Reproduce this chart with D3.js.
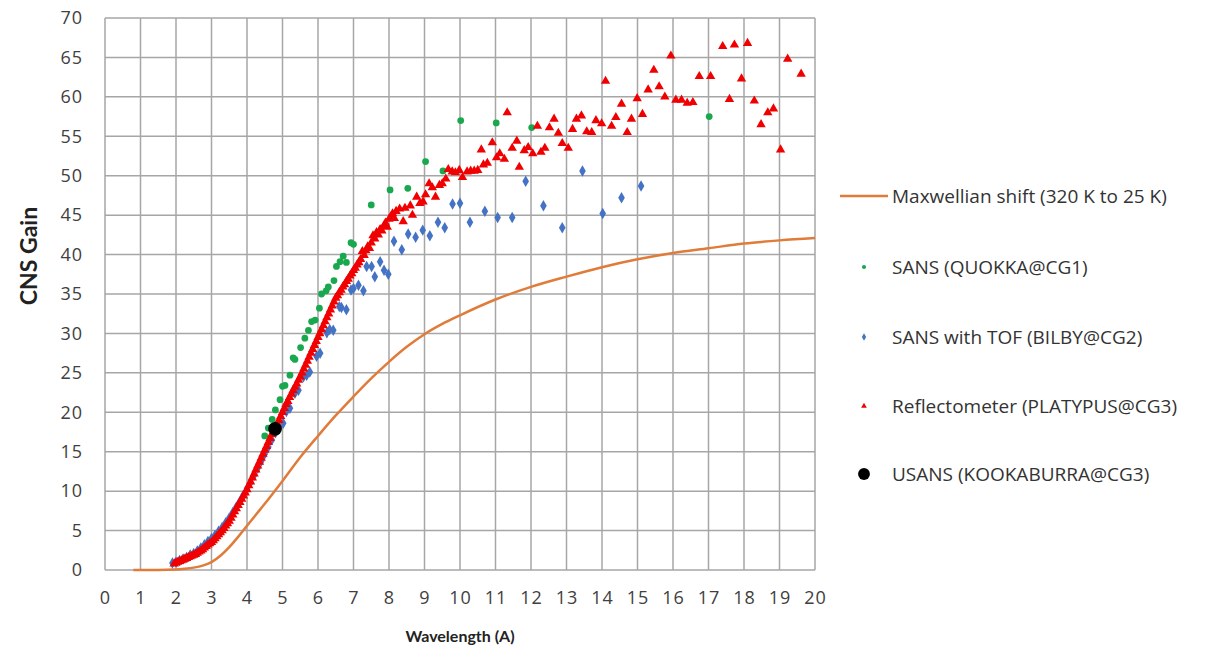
<!DOCTYPE html>
<html>
<head>
<meta charset="utf-8">
<script src="https://cdn.jsdelivr.net/npm/d3@7"></script>
<style>
    body { margin: 0; background: #fff; }
    svg { font-family: "Open Sans", Lato, sans-serif; }
</style>
</head>
<body>
<svg id="chart" width="1209" height="650"></svg>
<script>
// CNS gain vs wavelength

const xTicks = d3.range(0, 21),
    yTicks = d3.range(0, 71, 5);

// Maxwellian shift curve (320 K to 25 K)
const maxwell = [
    [0.8, 0], [1, 0], [1.5, 0], [2, 0.05], [2.25, 0.15], [2.5, 0.3], [2.75, 0.55],
    [3, 1.0], [3.25, 1.8], [3.5, 2.9], [3.75, 4.2], [4, 5.6], [4.25, 7.0], [4.5, 8.4],
    [5, 11.3], [5.5, 14.3], [6, 17.0], [6.5, 19.6], [7, 22.0], [7.5, 24.3], [8, 26.4],
    [8.5, 28.3], [9, 29.9], [9.5, 31.2], [10, 32.3], [11, 34.3], [12, 35.9], [13, 37.2],
    [14, 38.4], [15, 39.4], [16, 40.2], [17, 40.8], [18, 41.4], [19, 41.8], [20, 42.1]
];

// SANS (QUOKKA@CG1)
const quokka = [
    [4.50, 17.0], [4.60, 18.0], [4.71, 19.1], [4.80, 20.3], [4.93, 21.6], [5.00, 23.3],
    [5.07, 23.4], [5.21, 24.7], [5.30, 26.9], [5.35, 26.7], [5.51, 28.2], [5.63, 29.4],
    [5.73, 30.4], [5.82, 31.5], [5.92, 31.7], [6.04, 33.2], [6.10, 35.0], [6.23, 35.4],
    [6.29, 35.9], [6.45, 36.7], [6.52, 38.5], [6.62, 39.1], [6.71, 39.8], [6.80, 39.0],
    [6.93, 41.5], [7.00, 41.3], [7.50, 46.3], [8.03, 48.2], [8.53, 48.4], [9.03, 51.8],
    [9.52, 50.6], [10.02, 57.0], [11.02, 56.7], [12.02, 56.1], [17.02, 57.5]
];

// SANS with TOF (BILBY@CG2)
const bilby = [
    [1.9, 0.9], [2.0, 1.0], [2.1, 1.2], [2.2, 1.4], [2.3, 1.6], [2.4, 1.9], [2.5, 2.1],
    [2.6, 2.4], [2.7, 2.8], [2.8, 3.2], [2.9, 3.6], [3.0, 4.0], [3.1, 4.4], [3.2, 4.9],
    [3.3, 5.4], [3.4, 6.0], [3.5, 6.6], [3.6, 7.3], [3.7, 8.0], [3.8, 8.7], [3.9, 9.5],
    [4.0, 10.3], [4.1, 11.1], [4.2, 12.0], [4.3, 12.9], [4.4, 13.8], [4.5, 14.7],
    [4.6, 15.6], [4.7, 16.5], [4.8, 17.4], [4.9, 18.1], [5.02, 18.6], [5.11, 20.1],
    [5.21, 20.5], [5.35, 22.4], [5.45, 22.8], [5.59, 24.5], [5.68, 24.7], [5.77, 25.1],
    [5.96, 27.1], [6.06, 27.5], [6.25, 30.1], [6.33, 30.5], [6.43, 30.4], [6.60, 33.4],
    [6.66, 33.3], [6.80, 33.0], [6.93, 35.5], [7.00, 35.7], [7.14, 36.1], [7.28, 35.4],
    [7.37, 38.5], [7.51, 38.5], [7.60, 37.2], [7.75, 39.1], [7.86, 38.0], [7.98, 37.5],
    [8.14, 41.7], [8.36, 40.6], [8.54, 42.6], [8.75, 42.2], [8.95, 43.1], [9.15, 42.4],
    [9.38, 44.1], [9.57, 43.4], [9.79, 46.4], [10.00, 46.5], [10.28, 44.1], [10.70, 45.5],
    [11.06, 44.7], [11.47, 44.7], [11.85, 49.3], [12.35, 46.2], [12.88, 43.4],
    [13.45, 50.6], [14.02, 45.2], [14.55, 47.2], [15.10, 48.7]
];

// Reflectometer (PLATYPUS@CG3)
const platypus = [
    [1.95, 0.8], [2.0, 0.9], [2.05, 1.0], [2.1, 1.1], [2.15, 1.2], [2.2, 1.3], [2.25, 1.4],
    [2.3, 1.5], [2.35, 1.6], [2.4, 1.7], [2.45, 1.8], [2.5, 1.9], [2.55, 2.0], [2.6, 2.15],
    [2.65, 2.3], [2.7, 2.45], [2.75, 2.6], [2.8, 2.8], [2.85, 3.0], [2.9, 3.2], [2.95, 3.35],
    [3.0, 3.5], [3.05, 3.75], [3.1, 4.0], [3.15, 4.25], [3.2, 4.5], [3.25, 4.75], [3.3, 5.0],
    [3.35, 5.3], [3.4, 5.6], [3.45, 5.9], [3.5, 6.2], [3.55, 6.6], [3.6, 7.0], [3.65, 7.4],
    [3.7, 7.8], [3.75, 8.2], [3.8, 8.6], [3.85, 9.0], [3.9, 9.4], [3.95, 9.8], [4.0, 10.2],
    [4.05, 10.7], [4.1, 11.2], [4.15, 11.7], [4.2, 12.2], [4.25, 12.7], [4.3, 13.2],
    [4.35, 13.7], [4.4, 14.2], [4.45, 14.7], [4.5, 15.2], [4.55, 15.7], [4.6, 16.2],
    [4.65, 16.7], [4.7, 17.2], [4.75, 17.6], [4.8, 18.0], [4.85, 18.5], [4.9, 19.0],
    [4.95, 19.5], [5.0, 20.0], [5.05, 20.5], [5.1, 21.0], [5.15, 21.4], [5.2, 21.9],
    [5.25, 22.3], [5.3, 22.8], [5.35, 23.2], [5.4, 23.6], [5.45, 24.1], [5.5, 24.5],
    [5.55, 25.0], [5.6, 25.5], [5.65, 26.0], [5.7, 26.5], [5.75, 27.0], [5.8, 27.5],
    [5.85, 28.0], [5.9, 28.5], [5.95, 29.0], [6.0, 29.5], [6.05, 30.0], [6.1, 30.5],
    [6.15, 31.0], [6.2, 31.5], [6.25, 32.0], [6.3, 32.5], [6.35, 33.0], [6.4, 33.5],
    [6.45, 34.0], [6.5, 34.5], [6.55, 34.8], [6.6, 35.2], [6.65, 35.5], [6.7, 35.9],
    [6.75, 36.2], [6.8, 36.6], [6.85, 36.9], [6.9, 37.3], [6.95, 37.6], [7.0, 38.0],
    [7.05, 38.3], [7.1, 38.7], [7.15, 39.0], [7.2, 39.4], [7.25, 40.4], [7.3, 39.9],
    [7.35, 40.5], [7.4, 41.0], [7.45, 40.8], [7.5, 41.5], [7.55, 42.4], [7.6, 42.0],
    [7.65, 42.8], [7.7, 42.5], [7.75, 43.2], [7.8, 43.0], [7.85, 43.6], [7.9, 44.0],
    [7.95, 43.5], [8.0, 44.5], [8.05, 44.8], [8.1, 45.2], [8.15, 44.6], [8.2, 45.5],
    [8.3, 45.8], [8.40, 44.2], [8.45, 45.9], [8.60, 46.2], [8.66, 45.0], [8.78, 47.3],
    [8.87, 46.5], [8.96, 46.7], [9.03, 47.6], [9.13, 49.0], [9.22, 48.5], [9.31, 47.3],
    [9.42, 48.8], [9.50, 49.0], [9.60, 49.6], [9.67, 50.8], [9.78, 50.5], [9.87, 50.4],
    [9.98, 50.7], [10.07, 49.8], [10.20, 50.5], [10.30, 50.6], [10.40, 50.6], [10.50, 50.7],
    [10.60, 53.3], [10.66, 51.4], [10.77, 51.6], [10.91, 54.2], [11.03, 52.3], [11.12, 52.8],
    [11.25, 52.1], [11.33, 58.0], [11.47, 53.5], [11.60, 54.4], [11.67, 51.1], [11.81, 53.2],
    [11.92, 53.6], [12.05, 52.8], [12.18, 56.3], [12.28, 53.0], [12.39, 53.5], [12.52, 56.1],
    [12.65, 57.2], [12.77, 55.4], [12.88, 54.1], [13.05, 53.5], [13.17, 55.9], [13.28, 57.2],
    [13.42, 57.6], [13.57, 55.6], [13.71, 55.5], [13.83, 57.0], [13.99, 56.6], [14.10, 62.0],
    [14.27, 56.3], [14.39, 57.4], [14.55, 59.1], [14.71, 55.5], [14.83, 57.2], [14.99, 59.8],
    [15.14, 57.8], [15.30, 60.9], [15.46, 63.4], [15.61, 61.3], [15.77, 60.0], [15.94, 65.2],
    [16.08, 59.6], [16.24, 59.6], [16.40, 59.2], [16.56, 59.3], [16.74, 62.6], [17.06, 62.6],
    [17.40, 66.4], [17.59, 59.7], [17.73, 66.6], [17.93, 62.3], [18.10, 66.8], [18.29, 59.5],
    [18.48, 56.5], [18.67, 58.0], [18.83, 58.5], [19.03, 53.3], [19.23, 64.8], [19.61, 62.9]
];

// USANS (KOOKABURRA@CG3)
const kookaburra = [[4.79, 17.9]];

const legendLabels = [
    "Maxwellian shift (320 K to 25 K)",
    "SANS (QUOKKA@CG1)",
    "SANS with TOF (BILBY@CG2)",
    "Reflectometer (PLATYPUS@CG3)",
    "USANS (KOOKABURRA@CG3)"
];

const COLORS = {
    maxwell: "#e07b39",
    quokka: "#19a84e",
    bilby: "#4472c4",
    platypus: "#f00000",
    kookaburra: "#000"
};

const svg = d3.select("#chart"),
    margin = {top: 18, right: 394, bottom: 80, left: 105},
    width = 1209 - margin.left - margin.right,
    height = 650 - margin.top - margin.bottom;

const x = d3.scaleLinear().domain([0, 20]).range([margin.left, margin.left + width]),
    y = d3.scaleLinear().domain([0, 70]).range([margin.top + height, margin.top]);

// grid
const grid = svg.append("g").attr("stroke", "#a6a6a6").attr("stroke-width", 1.5);
grid.selectAll(".vx").data(xTicks).join("line")
    .attr("x1", (d) => x(d)).attr("x2", (d) => x(d))
    .attr("y1", y(0)).attr("y2", y(70));
grid.selectAll(".hy").data(yTicks).join("line")
    .attr("x1", x(0)).attr("x2", x(20))
    .attr("y1", (d) => y(d)).attr("y2", (d) => y(d));

// axes (labels only, lines are the grid)
const xAxis = svg.append("g")
    .attr("transform", `translate(0,${y(0)})`)
    .call(d3.axisBottom(x).tickValues(xTicks).tickSize(0).tickPadding(21));
const yAxis = svg.append("g")
    .attr("transform", `translate(${x(0)},0)`)
    .call(d3.axisLeft(y).tickValues(yTicks).tickSize(0).tickPadding(22));
[xAxis, yAxis].forEach((a) => {
    a.select(".domain").remove();
    a.selectAll("text")
        .attr("font-family", "'Open Sans', sans-serif")
        .attr("font-size", 18)
        .attr("letter-spacing", 1)
        .attr("fill", "#404040");
});

svg.append("text")
    .attr("x", x(10)).attr("y", 642)
    .attr("text-anchor", "middle")
    .attr("font-family", "Lato, sans-serif")
    .attr("font-size", 16).attr("font-weight", "bold")
    .attr("fill", "#222")
    .text("Wavelength (A)");

svg.append("text")
    .attr("transform", `translate(37,256) rotate(-90)`)
    .attr("text-anchor", "middle")
    .attr("font-family", "Lato, sans-serif")
    .attr("font-size", 23).attr("font-weight", "bold")
    .attr("fill", "#222")
    .text("CNS Gain");

// Maxwellian curve
const line = d3.line()
    .x((d) => x(d[0]))
    .y((d) => y(d[1]))
    .curve(d3.curveMonotoneX);

svg.append("path")
    .datum(maxwell)
    .attr("fill", "none")
    .attr("stroke", COLORS.maxwell)
    .attr("stroke-width", 2.5)
    .attr("d", line);

function scatter(data, symbol, size, color) {
    svg.append("g").selectAll("path")
        .data(data)
        .join("path")
        .attr("transform", (d) => `translate(${x(d[0])},${y(d[1])})`)
        .attr("d", d3.symbol().type(symbol).size(size))
        .attr("fill", color);
}

scatter(quokka, d3.symbolCircle, 36, COLORS.quokka);
scatter(bilby, d3.symbolDiamond, 38, COLORS.bilby);
scatter(platypus, d3.symbolTriangle, 38, COLORS.platypus);
scatter(kookaburra, d3.symbolCircle, 150, COLORS.kookaburra);

// legend
const legendY = [196, 267, 337, 406, 474],
    legend = svg.append("g");

legend.append("line")
    .attr("x1", 840).attr("x2", 888)
    .attr("y1", legendY[0]).attr("y2", legendY[0])
    .attr("stroke", COLORS.maxwell).attr("stroke-width", 2.5);

const legendMarks = [
    [d3.symbolCircle, 14, COLORS.quokka],
    [d3.symbolDiamond, 16, COLORS.bilby],
    [d3.symbolTriangle, 14, COLORS.platypus],
    [d3.symbolCircle, 110, COLORS.kookaburra]
];
legendMarks.forEach((m, i) => {
    legend.append("path")
        .attr("transform", `translate(864,${legendY[i + 1]})`)
        .attr("d", d3.symbol().type(m[0]).size(m[1]))
        .attr("fill", m[2]);
});

legend.selectAll("text")
    .data(legendLabels)
    .join("text")
    .attr("x", 892)
    .attr("y", (d, i) => legendY[i])
    .attr("dy", "0.35em")
    .attr("font-size", 19)
    .attr("fill", "#333")
    .text((d) => d);
</script>
</body>
</html>
